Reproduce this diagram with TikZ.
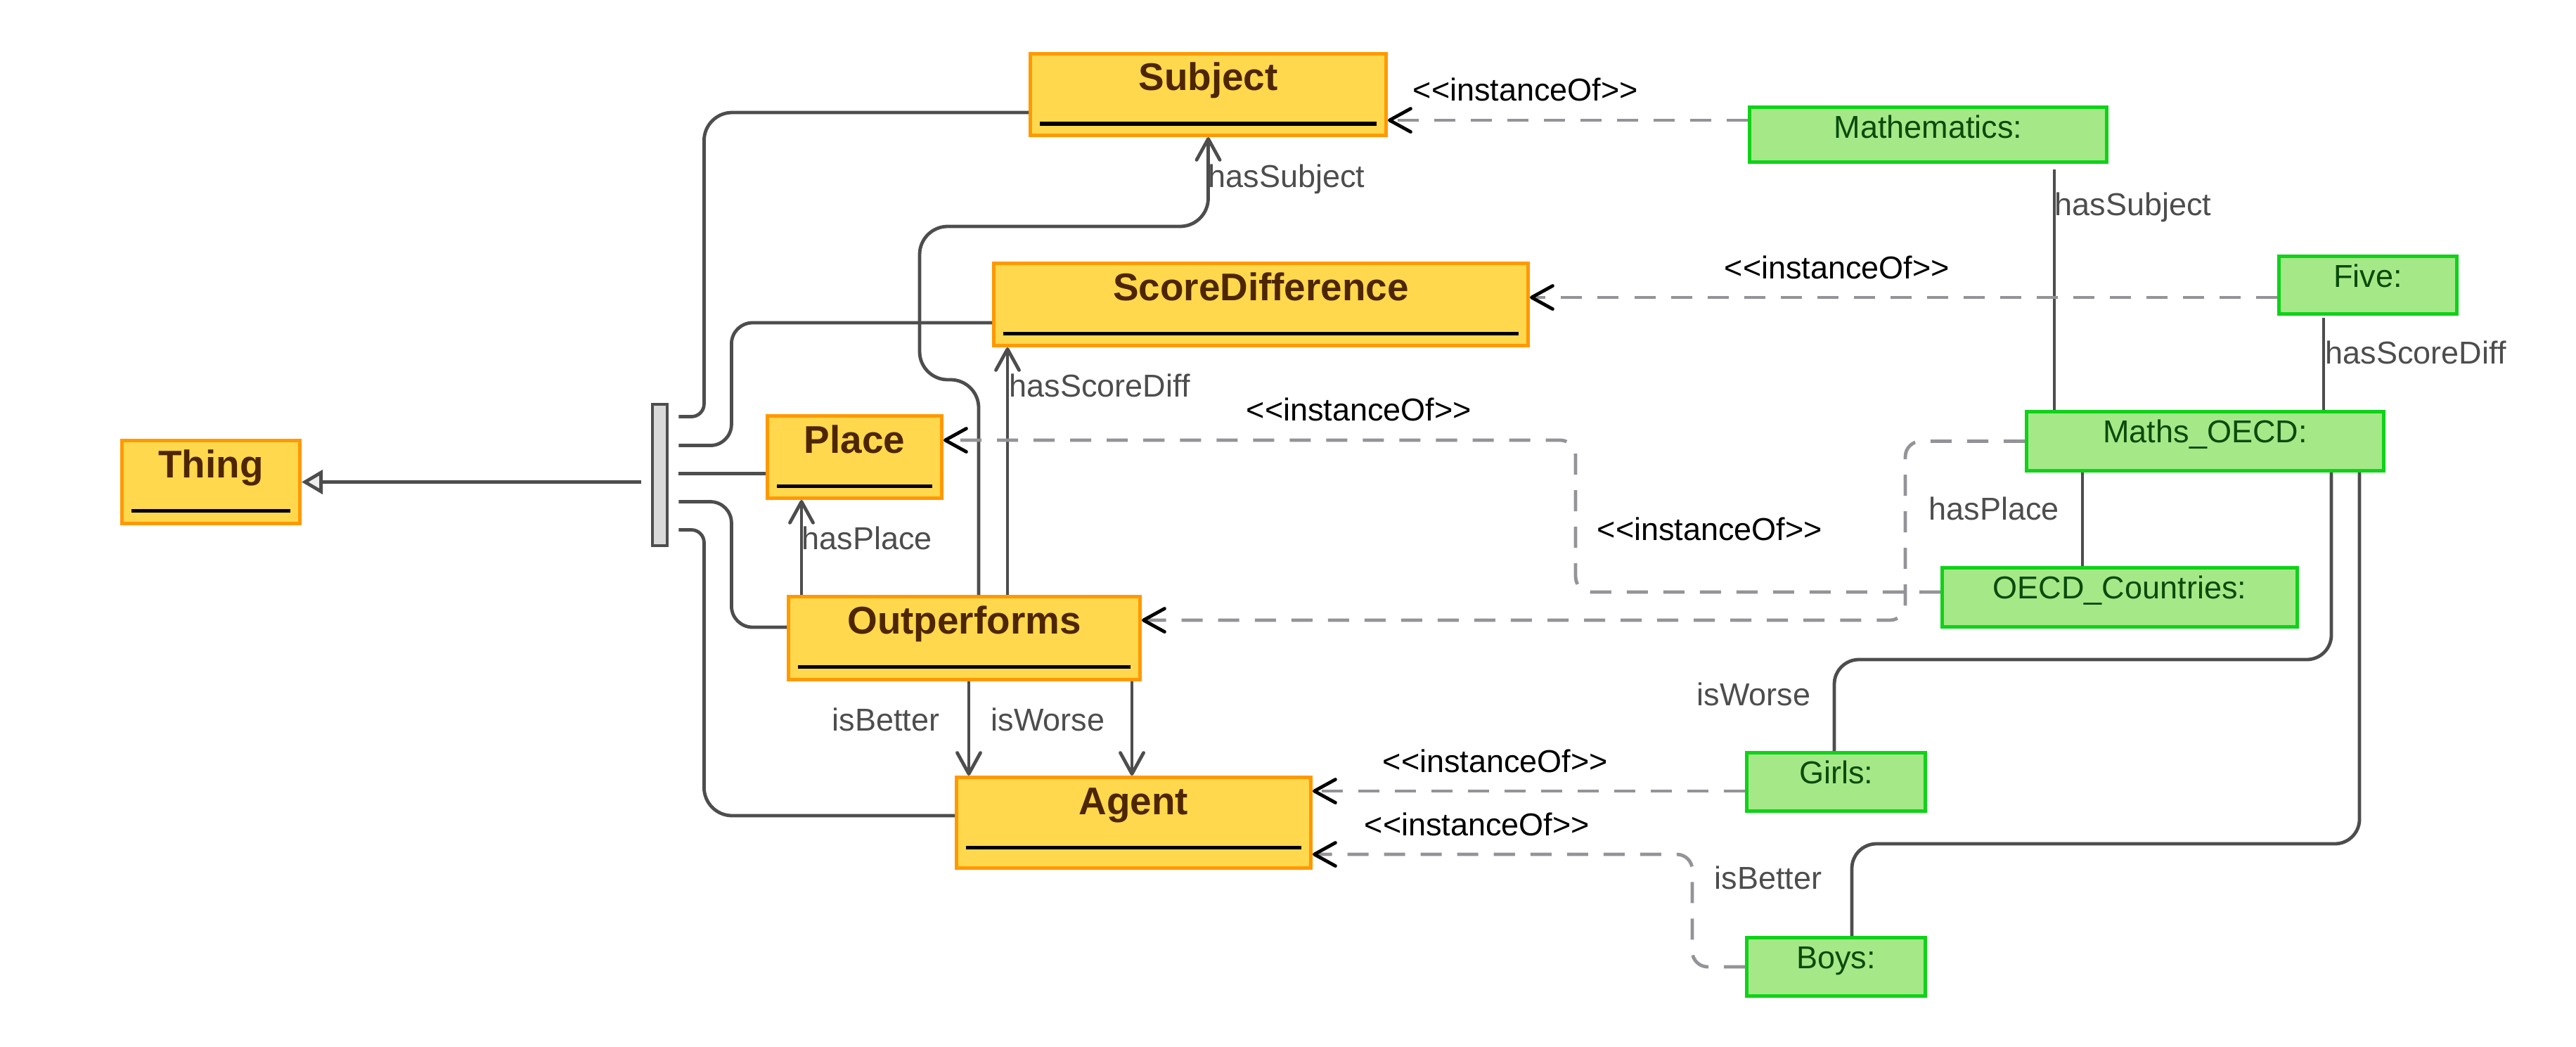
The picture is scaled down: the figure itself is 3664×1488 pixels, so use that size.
\documentclass[tikz,border=0pt]{standalone}
\usepackage{fontspec}
\setmainfont{Liberation Sans}
\usetikzlibrary{arrows.meta,calc}
\definecolor{clsfill}{HTML}{FFD84D}
\definecolor{clsline}{HTML}{FF9900}
\definecolor{clstext}{HTML}{4D2600}
\definecolor{objfill}{HTML}{A5E887}
\definecolor{objline}{HTML}{0FD219}
\definecolor{objtext}{HTML}{0A4A0A}
\definecolor{lnk}{HTML}{4D4D4D}
\definecolor{dsh}{HTML}{939398}
\tikzset{
  cls/.style={draw=clsline,fill=clsfill,line width=0.05cm,anchor=north west,inner sep=0pt},
  obj/.style={draw=objline,fill=objfill,line width=0.05cm,anchor=north west,inner sep=0pt},
  clsname/.style={anchor=base,inner sep=0pt,text=clstext,font=\fontsize{15.6}{18}\selectfont\bfseries},
  objname/.style={anchor=base,inner sep=0pt,text=objtext,font=\fontsize{12.8}{15}\selectfont},
  lbl/.style={anchor=base west,inner sep=0pt,text=lnk,font=\fontsize{12.8}{15}\selectfont},
  ilbl/.style={lbl,text=black},
  rel/.style={draw=lnk,line width=0.048cm},
  relar/.style={rel,-{Straight Barb[length=0.3cm,width=0.33cm,round]}},
  inst/.style={draw=dsh,line width=0.048cm,dash pattern=on 0.3cm off 0.22cm,rounded corners=0.22cm,
    -{Straight Barb[length=0.3cm,width=0.33cm,round,color=black]}},
  genbar/.style={draw=lnk,fill=black!15,line width=0.048cm,inner sep=0pt},
  genl/.style={rel,-{Triangle[length=0.3cm,width=0.34cm,fill=black!7]}}
}
% class box: name, x, y (top left), width, height, title
\newcommand{\clsbox}[6]{%
  \node[cls,minimum width=#4*0.01cm,minimum height=#5*0.01cm] (#1) at (#2,#3) {};
  \node[clsname] (#1-t) at ($(#1.north)+(0,55)$) {#6};
  \draw[line width=0.05cm] ($(#1.north west)+(16,102)$) -- ($(#1.north east)+(-16,102)$);}
% instance box
\newcommand{\objbox}[6]{%
  \node[obj,minimum width=#4*0.01cm,minimum height=#5*0.01cm] (#1) at (#2,#3) {};
  \node[objname] (#1-t) at ($(#1.north)+(0,46)$) {#6};}
\newcommand{\instof}{<{}<instanceOf>{}>}

\begin{document}
\begin{tikzpicture}[x=0.01cm,y=-0.01cm]
\useasboundingbox (0,0) rectangle (3664,1488);
% classes
\clsbox{thing}{171}{624}{253}{118}{Thing}
\clsbox{subject}{1463}{74}{506}{116}{Subject}
\clsbox{scorediff}{1411}{372}{760}{117}{ScoreDifference}
\clsbox{place}{1089}{589}{248}{117}{Place}
\clsbox{outp}{1119}{846}{500}{118}{Outperforms}
\clsbox{agent}{1358}{1103}{504}{129}{Agent}
% instances
\objbox{maths}{2486}{150}{508}{78}{Mathematics:}
\objbox{five}{3239}{362}{253}{82}{Five:}
\objbox{mo}{2880}{583}{508}{84}{Maths\_OECD:}
\objbox{oc}{2760}{805}{505}{84}{OECD\_Countries:}
\objbox{girls}{2482}{1068}{254}{83}{Girls:}
\objbox{boys}{2482}{1331}{254}{83}{Boys:}

% generalisation
\node[genbar,minimum width=0.21cm,minimum height=2.01cm] (gen) at (938.5,675.5) {};
\draw[genl] ($(gen.west |- thing.east)+(-14,0)$) -- (thing.east);
\foreach \i/\dy in {1/20,2/61,3/101,4/141,5/181}
  \coordinate (g\i) at ($(gen.north east)+(14,\dy)$);
\draw[rel,rounded corners=0.18cm] (g1) -- ++(36,0) [rounded corners=0.4cm] |- ($(subject.north west)+(0,86)$);
\draw[rel,rounded corners=0.3cm] (g2) -- ++(75,0) |- ($(scorediff.north west)+(0,87)$);
\draw[rel] (g3) -- (g3 -| place.west);
\draw[rel,rounded corners=0.3cm] (g4) -- ++(75,0) |- ($(outp.north west)+(0,46)$);
\draw[rel,rounded corners=0.18cm] (g5) -- ++(36,0) [rounded corners=0.4cm] |- ($(agent.north west)+(0,57)$);

% class relations
\draw[relar,rounded corners=0.4cm] ($(outp.north west)+(273,0)$) -- ++(0,-306) -- ++(-84,0) -- ++(0,-218) -| (subject.south);
\draw[relar] ($(outp.north west)+(314,0)$) coordinate (sd) -- (sd |- scorediff.south);
\draw[relar] ($(outp.north west)+(21,0)$) coordinate (pl) -- (pl |- place.south);
\draw[relar] ($(outp.south west)+(259,0)$) coordinate (bt) -- (bt |- agent.north);
\draw[relar] ($(outp.south east)+(-14,0)$) coordinate (wr) -- (wr |- agent.north);
\node[lbl] (l-hs) at (1718,267) {hasSubject};
\node[lbl] (l-hsd) at (1435,564) {hasScoreDiff};
\node[lbl] (l-hp) at (1140,781) {hasPlace};
\node[lbl] (l-ib) at (1183,1039) {isBetter};
\node[lbl] (l-iw) at (1409,1039) {isWorse};

% instance links
\draw[rel] ($(maths.south west)+(436,8)$) coordinate (m1) -- (m1 |- mo.north);
\draw[rel] ($(five.south west)+(66,3)$) coordinate (f1) -- (f1 |- mo.north);
\draw[rel] ($(mo.south west)+(82,0)$) coordinate (o1) -- (o1 |- oc.north);
\draw[rel,rounded corners=0.35cm] ($(mo.south west)+(436,0)$) |- ($(girls.north west)+(127,-130)$) -- ($(girls.north west)+(127,0)$);
\draw[rel,rounded corners=0.35cm] ($(mo.south west)+(476,0)$) |- ($(boys.north west)+(152,-131)$) -- ($(boys.north west)+(152,0)$);
\node[lbl] (o-hs) at (2922,306) {hasSubject};
\node[lbl] (o-hsd) at (3307,517) {hasScoreDiff};
\node[lbl] (o-hp) at (2743,739) {hasPlace};
\node[lbl] (o-iw) at (2413,1003) {isWorse};
\node[lbl] (o-ib) at (2438,1264) {isBetter};

% instanceOf
\draw[inst] ($(maths.north west)+(0,21)$) coordinate (i1) -- (i1 -| subject.east);
\draw[inst] ($(five.north west)+(0,61)$) coordinate (i2) -- (i2 -| scorediff.east);
\draw[inst] (mo.west) -- ++(-170,0) |- ($(outp.north east)+(0,36)$);
\draw[inst] ($(oc.north west)+(0,37)$) -- ++(-519,0) |- ($(place.north east)+(0,37)$);
\draw[inst] ($(girls.north west)+(0,57)$) coordinate (i5) -- (i5 -| agent.east);
\draw[inst] (boys.west) -- ++(-75,0) |- ($(agent.north east)+(0,112)$);
\node[ilbl] (io1) at (2009,144) {\instof};
\node[ilbl] (io2) at (2452,396) {\instof};
\node[ilbl] (io3) at (1772,598) {\instof};
\node[ilbl] (io4) at (2271,768) {\instof};
\node[ilbl] (io5) at (1966,1098) {\instof};
\node[ilbl] (io6) at (1940,1188) {\instof};
\end{tikzpicture}
\end{document}
